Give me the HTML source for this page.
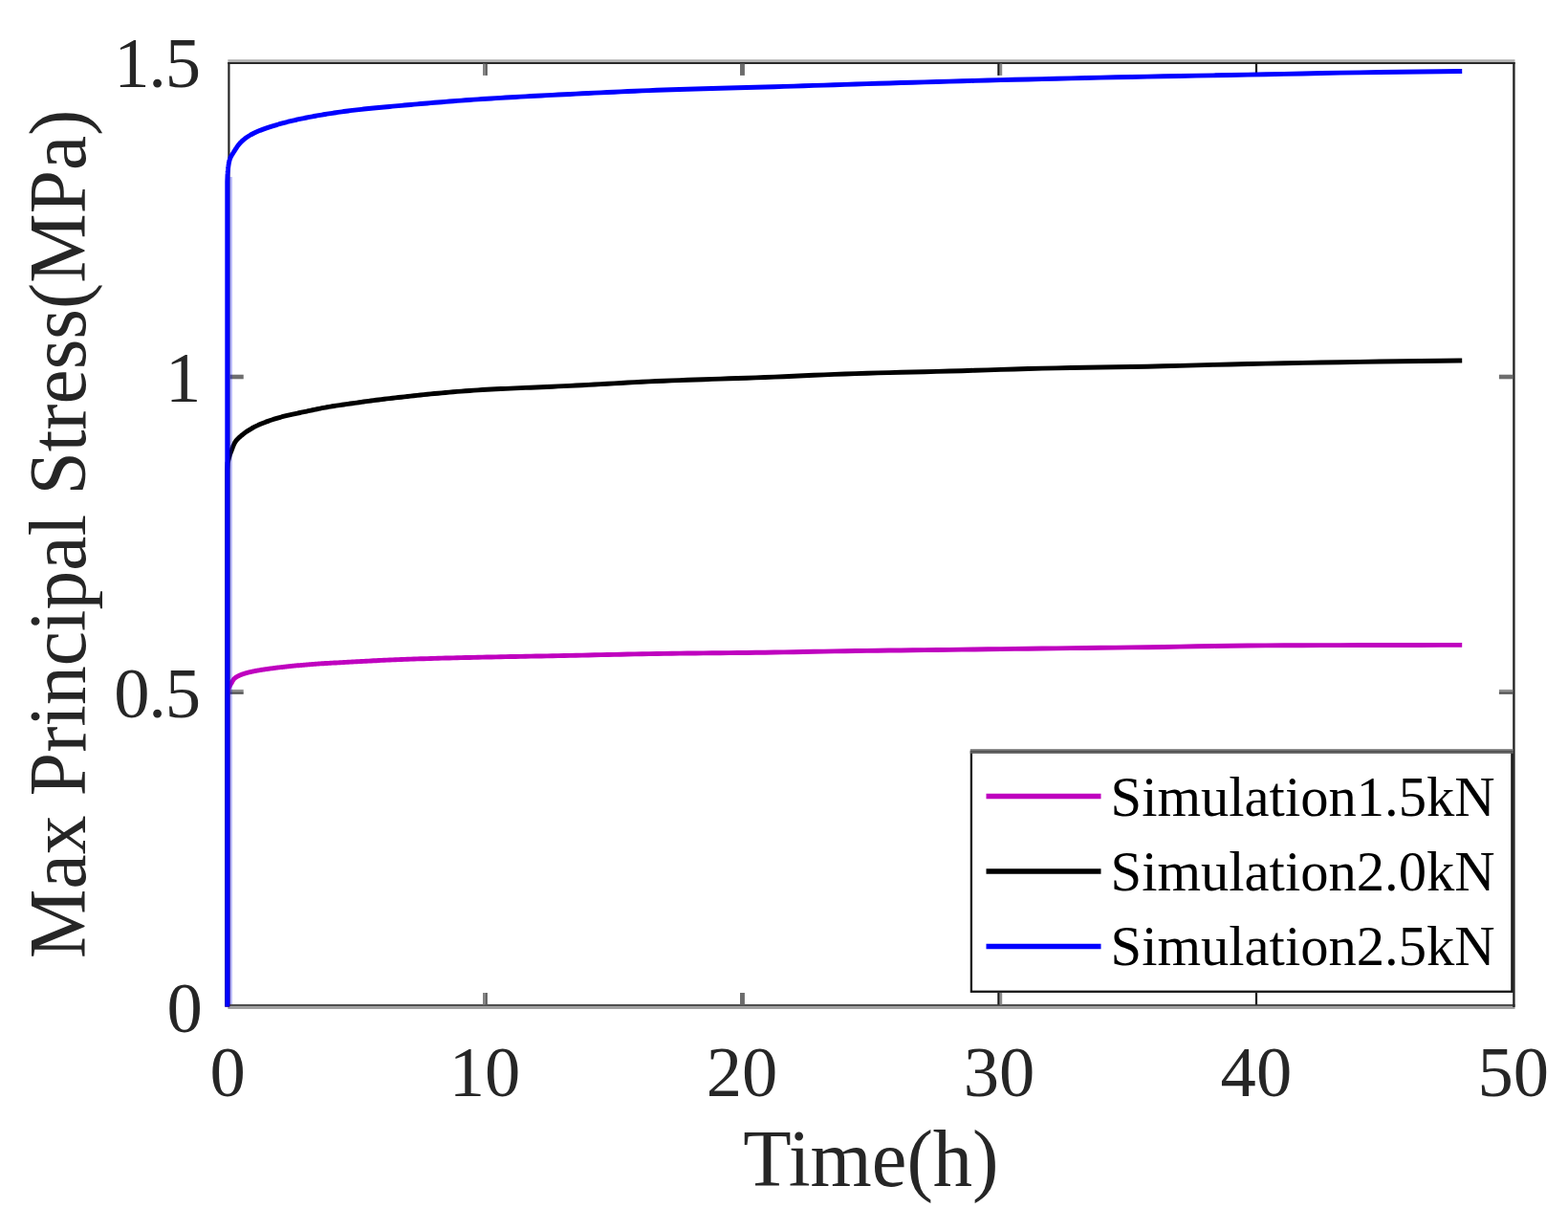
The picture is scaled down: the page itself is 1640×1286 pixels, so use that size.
<!DOCTYPE html>
<html lang="en">
<head>
<meta charset="utf-8">
<title>Max Principal Stress vs Time</title>
<style>
html,body{margin:0;padding:0;background:#fff;}
body{width:1640px;height:1286px;overflow:hidden;}
svg{display:block;}
text{font-family:"Liberation Serif",serif;fill:#262626;}
</style>
</head>
<body>
<svg width="1640" height="1286" viewBox="0 0 1640 1286">
<rect x="0" y="0" width="1640" height="1286" fill="#fff"/>
<!-- axes box -->
<rect x="238.3" y="62.2" width="1346.2" height="2.8" fill="#b2b2b2"/>
<rect x="238.3" y="65" width="1346.2" height="2" fill="#2a2a2a"/>
<rect x="238.3" y="1049.9" width="1346.2" height="2.4" fill="#4f4f4f"/>
<rect x="238.3" y="1052.3" width="1346.2" height="2.6" fill="#999"/>
<rect x="238.3" y="65" width="2.2" height="987" fill="#262626"/>
<rect x="1582.2" y="65" width="2.4" height="988" fill="#262626"/>
<rect x="505.00" y="66.50" width="2.40" height="12.40" fill="#828282"/>
<rect x="507.40" y="66.50" width="2.40" height="12.40" fill="#5a5a5a"/>
<rect x="505.00" y="1038.00" width="2.40" height="12.50" fill="#828282"/>
<rect x="507.40" y="1038.00" width="2.40" height="12.50" fill="#5a5a5a"/>
<rect x="774.00" y="66.50" width="4.90" height="12.40" fill="#6c6c6c"/>
<rect x="774.00" y="1038.00" width="4.90" height="12.50" fill="#6c6c6c"/>
<rect x="1043.30" y="66.50" width="2.40" height="12.40" fill="#1c1c1c"/>
<rect x="1045.70" y="66.50" width="2.50" height="12.40" fill="#8c8c8c"/>
<rect x="1043.30" y="1038.00" width="2.40" height="12.50" fill="#1c1c1c"/>
<rect x="1045.70" y="1038.00" width="2.50" height="12.50" fill="#8c8c8c"/>
<rect x="1312.90" y="66.50" width="2.20" height="12.40" fill="#151515"/>
<rect x="1312.90" y="1038.00" width="2.20" height="12.50" fill="#151515"/>
<rect x="240.20" y="391.70" width="14.50" height="4.60" fill="#6e6e6e"/>
<rect x="1567.90" y="391.70" width="14.40" height="4.60" fill="#6e6e6e"/>
<rect x="240.20" y="720.90" width="14.50" height="2.30" fill="#909090"/>
<rect x="240.20" y="723.20" width="14.50" height="2.60" fill="#555555"/>
<rect x="1567.90" y="720.90" width="14.40" height="2.30" fill="#909090"/>
<rect x="1567.90" y="723.20" width="14.40" height="2.60" fill="#555555"/>
<!-- curves -->
<g fill="none" stroke-width="4.9" stroke-linejoin="round" stroke-linecap="butt">
<path stroke="#bf00bf" d="M237.75,1052.40 L237.75,730.00 L238.05,722.00 L238.07,721.97 L238.10,721.93 L238.12,721.89 L238.14,721.85 L238.17,721.81 L238.19,721.76 L238.22,721.71 L238.24,721.67 L238.27,721.61 L238.30,721.56 L238.32,721.51 L238.35,721.45 L238.38,721.39 L238.41,721.33 L238.44,721.27 L238.46,721.20 L238.49,721.14 L238.52,721.07 L238.56,721.00 L238.59,720.93 L238.62,720.85 L238.65,720.78 L238.69,720.70 L238.72,720.62 L238.75,720.54 L238.79,720.46 L238.82,720.38 L238.86,720.29 L238.90,720.21 L238.93,720.12 L238.97,720.03 L239.01,719.94 L239.05,719.85 L239.09,719.75 L239.13,719.66 L239.17,719.56 L239.22,719.47 L239.26,719.37 L239.30,719.27 L239.35,719.17 L239.39,719.06 L239.44,718.96 L239.49,718.85 L239.53,718.75 L239.58,718.64 L239.63,718.53 L239.68,718.42 L239.73,718.31 L239.78,718.20 L239.84,718.09 L239.89,717.98 L239.95,717.86 L240.00,717.75 L240.06,717.63 L240.12,717.52 L240.17,717.40 L240.23,717.28 L240.30,717.16 L240.36,717.04 L240.42,716.92 L240.48,716.80 L240.55,716.68 L240.62,716.56 L240.68,716.43 L240.75,716.31 L240.82,716.18 L240.89,716.06 L240.96,715.93 L241.04,715.81 L241.11,715.68 L241.19,715.56 L241.27,715.43 L241.35,715.30 L241.43,715.17 L241.51,715.04 L241.59,714.92 L241.67,714.79 L241.76,714.66 L241.85,714.53 L241.94,714.39 L242.03,714.24 L242.12,714.09 L242.21,713.92 L242.31,713.75 L242.41,713.58 L242.50,713.40 L242.61,713.21 L242.71,713.03 L242.81,712.83 L242.92,712.64 L243.02,712.44 L243.13,712.25 L243.25,712.05 L243.36,711.85 L243.47,711.65 L243.59,711.46 L243.71,711.26 L243.83,711.07 L243.96,710.88 L244.08,710.70 L244.21,710.52 L244.34,710.35 L244.47,710.18 L244.61,710.02 L244.74,709.86 L244.88,709.72 L245.03,709.58 L245.17,709.44 L245.32,709.30 L245.47,709.17 L245.62,709.04 L245.77,708.91 L245.93,708.79 L246.09,708.66 L246.25,708.54 L246.42,708.42 L246.59,708.30 L246.76,708.18 L246.93,708.06 L247.11,707.95 L247.29,707.83 L247.48,707.72 L247.66,707.61 L247.85,707.50 L248.05,707.39 L248.25,707.28 L248.45,707.17 L248.65,707.06 L248.86,706.96 L249.07,706.85 L249.28,706.74 L249.50,706.63 L249.72,706.53 L249.95,706.42 L250.18,706.31 L250.42,706.21 L250.65,706.10 L250.90,705.99 L251.14,705.88 L251.39,705.77 L251.65,705.66 L251.91,705.56 L252.17,705.45 L252.44,705.34 L252.72,705.24 L253.00,705.13 L253.28,705.03 L253.57,704.92 L253.86,704.82 L254.16,704.72 L254.46,704.61 L254.77,704.51 L255.09,704.41 L255.41,704.30 L255.73,704.20 L256.06,704.10 L256.40,704.00 L256.74,703.90 L257.09,703.80 L257.45,703.70 L257.81,703.60 L258.18,703.49 L258.55,703.39 L258.93,703.29 L259.32,703.19 L259.71,703.09 L260.11,702.99 L260.52,702.89 L260.94,702.79 L261.36,702.69 L261.79,702.59 L262.22,702.49 L262.67,702.39 L263.12,702.28 L263.58,702.18 L264.05,702.08 L264.52,701.98 L265.01,701.88 L265.50,701.78 L266.00,701.68 L266.51,701.58 L267.03,701.48 L267.56,701.38 L268.10,701.28 L268.65,701.18 L269.20,701.08 L269.77,700.98 L270.35,700.89 L270.93,700.79 L271.53,700.69 L272.14,700.59 L272.75,700.49 L273.38,700.39 L274.02,700.29 L274.67,700.19 L275.33,700.09 L276.01,699.98 L276.69,699.88 L277.39,699.78 L278.10,699.68 L278.82,699.57 L279.55,699.47 L280.30,699.36 L281.06,699.26 L281.83,699.15 L282.62,699.04 L283.42,698.93 L284.23,698.82 L285.06,698.71 L285.90,698.60 L286.76,698.49 L287.63,698.38 L288.52,698.27 L289.43,698.15 L290.34,698.04 L291.28,697.92 L292.23,697.81 L293.20,697.69 L294.18,697.58 L295.19,697.46 L296.21,697.34 L297.24,697.23 L298.30,697.11 L299.37,696.99 L300.47,696.87 L301.58,696.76 L302.71,696.64 L303.86,696.52 L305.03,696.40 L306.22,696.29 L307.43,696.17 L308.67,696.05 L309.92,695.93 L311.20,695.81 L312.50,695.69 L313.82,695.57 L315.16,695.44 L316.53,695.32 L317.92,695.20 L319.34,695.08 L320.78,694.95 L322.25,694.83 L323.74,694.71 L325.26,694.59 L326.80,694.47 L328.37,694.35 L329.97,694.24 L331.60,694.12 L333.25,694.01 L334.94,693.90 L336.65,693.78 L338.39,693.68 L340.17,693.57 L341.97,693.46 L343.81,693.36 L345.68,693.25 L347.58,693.15 L349.51,693.04 L351.48,692.94 L353.48,692.83 L355.52,692.72 L357.59,692.61 L359.70,692.50 L361.84,692.39 L364.03,692.28 L366.25,692.16 L368.51,692.04 L370.80,691.92 L373.14,691.79 L375.52,691.66 L377.94,691.53 L380.41,691.39 L382.92,691.25 L385.47,691.11 L388.06,690.97 L390.70,690.82 L393.39,690.68 L396.12,690.54 L398.90,690.40 L401.73,690.25 L404.61,690.12 L407.54,689.98 L410.52,689.85 L413.55,689.72 L416.63,689.59 L419.77,689.47 L422.97,689.35 L426.22,689.24 L429.52,689.12 L432.89,689.01 L436.31,688.90 L439.79,688.79 L443.33,688.69 L446.94,688.58 L450.60,688.48 L454.34,688.37 L458.13,688.27 L462.00,688.17 L465.93,688.07 L469.92,687.97 L473.99,687.86 L478.13,687.76 L482.34,687.66 L486.63,687.56 L490.99,687.45 L495.43,687.35 L499.94,687.25 L504.53,687.14 L509.20,687.04 L513.96,686.94 L518.79,686.84 L523.72,686.75 L528.72,686.65 L533.82,686.55 L539.00,686.45 L544.27,686.35 L549.64,686.25 L555.10,686.15 L560.65,686.05 L566.31,685.94 L572.06,685.84 L577.91,685.73 L583.86,685.62 L589.92,685.50 L596.08,685.38 L602.35,685.25 L608.73,685.11 L615.22,684.97 L621.82,684.82 L628.54,684.67 L635.38,684.52 L642.33,684.36 L649.41,684.20 L656.61,684.05 L663.94,683.90 L671.39,683.76 L678.97,683.62 L686.69,683.49 L694.54,683.37 L702.53,683.26 L710.65,683.16 L718.92,683.07 L727.34,682.98 L735.90,682.90 L744.61,682.81 L753.47,682.72 L762.48,682.63 L771.66,682.54 L780.99,682.43 L790.49,682.32 L800.15,682.20 L809.98,682.05 L819.98,681.89 L830.16,681.71 L840.51,681.51 L851.05,681.31 L861.77,681.11 L872.67,680.91 L883.77,680.72 L895.06,680.54 L906.54,680.37 L918.23,680.22 L930.12,680.07 L942.22,679.93 L954.53,679.79 L967.05,679.64 L979.80,679.49 L992.76,679.33 L1005.95,679.16 L1019.37,678.98 L1033.03,678.80 L1046.92,678.61 L1061.06,678.42 L1075.44,678.22 L1090.08,678.03 L1104.96,677.85 L1120.11,677.67 L1135.53,677.49 L1151.21,677.31 L1167.17,677.12 L1183.40,676.92 L1199.92,676.70 L1216.72,676.43 L1233.82,676.11 L1251.22,675.77 L1268.92,675.46 L1286.93,675.20 L1305.26,675.04 L1323.90,674.91 L1342.87,674.80 L1362.17,674.71 L1381.81,674.64 L1401.79,674.58 L1422.11,674.54 L1442.80,674.49 L1463.84,674.46 L1485.25,674.43 L1507.04,674.41 L1529.20,674.40"/>
<path stroke="#000000" d="M237.75,1052.40 L237.75,492.00 L238.05,484.00 L238.07,483.93 L238.10,483.86 L238.12,483.78 L238.14,483.70 L238.17,483.62 L238.19,483.53 L238.22,483.44 L238.24,483.35 L238.27,483.26 L238.30,483.16 L238.32,483.06 L238.35,482.96 L238.38,482.86 L238.41,482.75 L238.44,482.64 L238.46,482.53 L238.49,482.41 L238.52,482.30 L238.56,482.18 L238.59,482.06 L238.62,481.93 L238.65,481.81 L238.69,481.68 L238.72,481.55 L238.75,481.41 L238.79,481.28 L238.82,481.14 L238.86,481.00 L238.90,480.86 L238.93,480.71 L238.97,480.57 L239.01,480.42 L239.05,480.27 L239.09,480.12 L239.13,479.96 L239.17,479.81 L239.22,479.65 L239.26,479.49 L239.30,479.33 L239.35,479.16 L239.39,479.00 L239.44,478.83 L239.49,478.66 L239.53,478.49 L239.58,478.32 L239.63,478.15 L239.68,477.98 L239.73,477.80 L239.78,477.62 L239.84,477.44 L239.89,477.26 L239.95,477.08 L240.00,476.90 L240.06,476.71 L240.12,476.53 L240.17,476.34 L240.23,476.15 L240.30,475.97 L240.36,475.78 L240.42,475.58 L240.48,475.39 L240.55,475.20 L240.62,475.00 L240.68,474.81 L240.75,474.61 L240.82,474.42 L240.89,474.22 L240.96,474.02 L241.04,473.82 L241.11,473.62 L241.19,473.42 L241.27,473.22 L241.35,473.01 L241.43,472.81 L241.51,472.61 L241.59,472.40 L241.67,472.20 L241.76,471.99 L241.85,471.79 L241.94,471.57 L242.03,471.34 L242.12,471.11 L242.21,470.87 L242.31,470.62 L242.41,470.36 L242.50,470.10 L242.61,469.83 L242.71,469.55 L242.81,469.27 L242.92,468.99 L243.02,468.70 L243.13,468.40 L243.25,468.11 L243.36,467.81 L243.47,467.51 L243.59,467.20 L243.71,466.90 L243.83,466.59 L243.96,466.29 L244.08,465.98 L244.21,465.68 L244.34,465.38 L244.47,465.08 L244.61,464.78 L244.74,464.48 L244.88,464.19 L245.03,463.90 L245.17,463.61 L245.32,463.33 L245.47,463.05 L245.62,462.79 L245.77,462.52 L245.93,462.26 L246.09,462.01 L246.25,461.77 L246.42,461.53 L246.59,461.29 L246.76,461.06 L246.93,460.83 L247.11,460.60 L247.29,460.38 L247.48,460.15 L247.66,459.93 L247.85,459.72 L248.05,459.50 L248.25,459.28 L248.45,459.07 L248.65,458.86 L248.86,458.65 L249.07,458.44 L249.28,458.23 L249.50,458.02 L249.72,457.81 L249.95,457.60 L250.18,457.39 L250.42,457.17 L250.65,456.96 L250.90,456.75 L251.14,456.54 L251.39,456.32 L251.65,456.10 L251.91,455.89 L252.17,455.67 L252.44,455.44 L252.72,455.22 L253.00,454.99 L253.28,454.76 L253.57,454.53 L253.86,454.29 L254.16,454.05 L254.46,453.81 L254.77,453.57 L255.09,453.33 L255.41,453.09 L255.73,452.84 L256.06,452.60 L256.40,452.35 L256.74,452.10 L257.09,451.85 L257.45,451.60 L257.81,451.35 L258.18,451.10 L258.55,450.85 L258.93,450.59 L259.32,450.34 L259.71,450.08 L260.11,449.83 L260.52,449.57 L260.94,449.31 L261.36,449.05 L261.79,448.79 L262.22,448.53 L262.67,448.27 L263.12,448.01 L263.58,447.75 L264.05,447.49 L264.52,447.23 L265.01,446.97 L265.50,446.71 L266.00,446.45 L266.51,446.19 L267.03,445.92 L267.56,445.66 L268.10,445.40 L268.65,445.14 L269.20,444.88 L269.77,444.61 L270.35,444.35 L270.93,444.09 L271.53,443.83 L272.14,443.56 L272.75,443.30 L273.38,443.03 L274.02,442.76 L274.67,442.50 L275.33,442.23 L276.01,441.96 L276.69,441.69 L277.39,441.43 L278.10,441.16 L278.82,440.89 L279.55,440.62 L280.30,440.35 L281.06,440.08 L281.83,439.81 L282.62,439.53 L283.42,439.26 L284.23,438.99 L285.06,438.72 L285.90,438.45 L286.76,438.18 L287.63,437.91 L288.52,437.64 L289.43,437.37 L290.34,437.09 L291.28,436.82 L292.23,436.55 L293.20,436.28 L294.18,436.01 L295.19,435.74 L296.21,435.48 L297.24,435.21 L298.30,434.95 L299.37,434.68 L300.47,434.42 L301.58,434.16 L302.71,433.90 L303.86,433.64 L305.03,433.38 L306.22,433.11 L307.43,432.85 L308.67,432.58 L309.92,432.31 L311.20,432.04 L312.50,431.76 L313.82,431.49 L315.16,431.20 L316.53,430.92 L317.92,430.63 L319.34,430.33 L320.78,430.03 L322.25,429.72 L323.74,429.40 L325.26,429.08 L326.80,428.75 L328.37,428.42 L329.97,428.08 L331.60,427.74 L333.25,427.40 L334.94,427.06 L336.65,426.72 L338.39,426.39 L340.17,426.05 L341.97,425.72 L343.81,425.40 L345.68,425.09 L347.58,424.77 L349.51,424.47 L351.48,424.16 L353.48,423.86 L355.52,423.56 L357.59,423.26 L359.70,422.96 L361.84,422.65 L364.03,422.34 L366.25,422.03 L368.51,421.71 L370.80,421.39 L373.14,421.05 L375.52,420.72 L377.94,420.37 L380.41,420.03 L382.92,419.68 L385.47,419.33 L388.06,418.98 L390.70,418.63 L393.39,418.29 L396.12,417.95 L398.90,417.61 L401.73,417.27 L404.61,416.93 L407.54,416.59 L410.52,416.25 L413.55,415.90 L416.63,415.56 L419.77,415.22 L422.97,414.86 L426.22,414.51 L429.52,414.15 L432.89,413.78 L436.31,413.41 L439.79,413.04 L443.33,412.67 L446.94,412.30 L450.60,411.92 L454.34,411.55 L458.13,411.19 L462.00,410.82 L465.93,410.46 L469.92,410.11 L473.99,409.76 L478.13,409.42 L482.34,409.08 L486.63,408.76 L490.99,408.45 L495.43,408.14 L499.94,407.85 L504.53,407.57 L509.20,407.31 L513.96,407.05 L518.79,406.80 L523.72,406.56 L528.72,406.33 L533.82,406.10 L539.00,405.87 L544.27,405.64 L549.64,405.41 L555.10,405.18 L560.65,404.94 L566.31,404.70 L572.06,404.45 L577.91,404.19 L583.86,403.92 L589.92,403.64 L596.08,403.35 L602.35,403.03 L608.73,402.70 L615.22,402.35 L621.82,401.98 L628.54,401.61 L635.38,401.22 L642.33,400.83 L649.41,400.44 L656.61,400.05 L663.94,399.67 L671.39,399.29 L678.97,398.92 L686.69,398.56 L694.54,398.22 L702.53,397.90 L710.65,397.59 L718.92,397.29 L727.34,396.99 L735.90,396.70 L744.61,396.41 L753.47,396.11 L762.48,395.82 L771.66,395.51 L780.99,395.19 L790.49,394.85 L800.15,394.49 L809.98,394.11 L819.98,393.69 L830.16,393.24 L840.51,392.78 L851.05,392.31 L861.77,391.85 L872.67,391.40 L883.77,390.97 L895.06,390.58 L906.54,390.23 L918.23,389.90 L930.12,389.60 L942.22,389.30 L954.53,389.01 L967.05,388.71 L979.80,388.40 L992.76,388.06 L1005.95,387.69 L1019.37,387.27 L1033.03,386.83 L1046.92,386.38 L1061.06,385.94 L1075.44,385.53 L1090.08,385.16 L1104.96,384.84 L1120.11,384.56 L1135.53,384.31 L1151.21,384.06 L1167.17,383.80 L1183.40,383.52 L1199.92,383.20 L1216.72,382.82 L1233.82,382.37 L1251.22,381.89 L1268.92,381.41 L1286.93,380.95 L1305.26,380.53 L1323.90,380.13 L1342.87,379.74 L1362.17,379.37 L1381.81,379.02 L1401.79,378.69 L1422.11,378.38 L1442.80,378.07 L1463.84,377.78 L1485.25,377.50 L1507.04,377.24 L1529.20,377.00"/>
<path stroke="#0000ff" d="M237.75,1052.40 L237.75,190.00 L238.05,182.00 L238.07,181.69 L238.10,181.38 L238.12,181.07 L238.14,180.76 L238.17,180.45 L238.19,180.15 L238.22,179.84 L238.24,179.54 L238.27,179.24 L238.30,178.94 L238.32,178.64 L238.35,178.35 L238.38,178.05 L238.41,177.76 L238.44,177.47 L238.46,177.18 L238.49,176.89 L238.52,176.60 L238.56,176.32 L238.59,176.03 L238.62,175.75 L238.65,175.47 L238.69,175.19 L238.72,174.92 L238.75,174.64 L238.79,174.37 L238.82,174.10 L238.86,173.83 L238.90,173.56 L238.93,173.30 L238.97,173.04 L239.01,172.78 L239.05,172.52 L239.09,172.26 L239.13,172.01 L239.17,171.75 L239.22,171.50 L239.26,171.26 L239.30,171.01 L239.35,170.77 L239.39,170.52 L239.44,170.29 L239.49,170.05 L239.53,169.81 L239.58,169.58 L239.63,169.35 L239.68,169.12 L239.73,168.90 L239.78,168.67 L239.84,168.45 L239.89,168.24 L239.95,168.02 L240.00,167.81 L240.06,167.60 L240.12,167.40 L240.17,167.20 L240.23,167.00 L240.30,166.81 L240.36,166.62 L240.42,166.43 L240.48,166.24 L240.55,166.06 L240.62,165.88 L240.68,165.70 L240.75,165.52 L240.82,165.35 L240.89,165.18 L240.96,165.01 L241.04,164.84 L241.11,164.67 L241.19,164.51 L241.27,164.34 L241.35,164.18 L241.43,164.01 L241.51,163.85 L241.59,163.69 L241.67,163.53 L241.76,163.36 L241.85,163.20 L241.94,163.04 L242.03,162.88 L242.12,162.72 L242.21,162.55 L242.31,162.39 L242.41,162.23 L242.50,162.06 L242.61,161.89 L242.71,161.73 L242.81,161.56 L242.92,161.39 L243.02,161.22 L243.13,161.04 L243.25,160.87 L243.36,160.69 L243.47,160.51 L243.59,160.32 L243.71,160.14 L243.83,159.95 L243.96,159.76 L244.08,159.56 L244.21,159.37 L244.34,159.17 L244.47,158.96 L244.61,158.75 L244.74,158.54 L244.88,158.33 L245.03,158.11 L245.17,157.88 L245.32,157.65 L245.47,157.41 L245.62,157.17 L245.77,156.93 L245.93,156.68 L246.09,156.42 L246.25,156.17 L246.42,155.91 L246.59,155.64 L246.76,155.38 L246.93,155.11 L247.11,154.83 L247.29,154.56 L247.48,154.28 L247.66,154.00 L247.85,153.72 L248.05,153.44 L248.25,153.16 L248.45,152.88 L248.65,152.59 L248.86,152.31 L249.07,152.02 L249.28,151.74 L249.50,151.46 L249.72,151.17 L249.95,150.89 L250.18,150.61 L250.42,150.33 L250.65,150.05 L250.90,149.77 L251.14,149.50 L251.39,149.22 L251.65,148.95 L251.91,148.69 L252.17,148.42 L252.44,148.16 L252.72,147.90 L253.00,147.64 L253.28,147.38 L253.57,147.12 L253.86,146.86 L254.16,146.60 L254.46,146.34 L254.77,146.08 L255.09,145.83 L255.41,145.57 L255.73,145.31 L256.06,145.05 L256.40,144.80 L256.74,144.54 L257.09,144.29 L257.45,144.03 L257.81,143.78 L258.18,143.52 L258.55,143.27 L258.93,143.01 L259.32,142.76 L259.71,142.51 L260.11,142.25 L260.52,142.00 L260.94,141.75 L261.36,141.50 L261.79,141.24 L262.22,140.99 L262.67,140.74 L263.12,140.49 L263.58,140.24 L264.05,139.99 L264.52,139.74 L265.01,139.49 L265.50,139.25 L266.00,139.00 L266.51,138.76 L267.03,138.51 L267.56,138.27 L268.10,138.03 L268.65,137.79 L269.20,137.55 L269.77,137.31 L270.35,137.07 L270.93,136.83 L271.53,136.59 L272.14,136.35 L272.75,136.12 L273.38,135.88 L274.02,135.64 L274.67,135.40 L275.33,135.16 L276.01,134.91 L276.69,134.67 L277.39,134.42 L278.10,134.18 L278.82,133.93 L279.55,133.68 L280.30,133.43 L281.06,133.18 L281.83,132.92 L282.62,132.66 L283.42,132.40 L284.23,132.14 L285.06,131.88 L285.90,131.61 L286.76,131.35 L287.63,131.08 L288.52,130.81 L289.43,130.54 L290.34,130.27 L291.28,130.00 L292.23,129.72 L293.20,129.45 L294.18,129.17 L295.19,128.90 L296.21,128.62 L297.24,128.34 L298.30,128.06 L299.37,127.78 L300.47,127.50 L301.58,127.22 L302.71,126.94 L303.86,126.66 L305.03,126.38 L306.22,126.10 L307.43,125.82 L308.67,125.54 L309.92,125.26 L311.20,124.98 L312.50,124.69 L313.82,124.41 L315.16,124.12 L316.53,123.84 L317.92,123.55 L319.34,123.26 L320.78,122.98 L322.25,122.69 L323.74,122.40 L325.26,122.11 L326.80,121.82 L328.37,121.53 L329.97,121.24 L331.60,120.95 L333.25,120.66 L334.94,120.37 L336.65,120.08 L338.39,119.78 L340.17,119.49 L341.97,119.19 L343.81,118.90 L345.68,118.60 L347.58,118.30 L349.51,118.00 L351.48,117.71 L353.48,117.41 L355.52,117.12 L357.59,116.83 L359.70,116.54 L361.84,116.25 L364.03,115.96 L366.25,115.68 L368.51,115.40 L370.80,115.12 L373.14,114.85 L375.52,114.58 L377.94,114.31 L380.41,114.05 L382.92,113.78 L385.47,113.52 L388.06,113.26 L390.70,113.01 L393.39,112.75 L396.12,112.49 L398.90,112.23 L401.73,111.97 L404.61,111.70 L407.54,111.44 L410.52,111.17 L413.55,110.89 L416.63,110.61 L419.77,110.33 L422.97,110.04 L426.22,109.75 L429.52,109.46 L432.89,109.16 L436.31,108.86 L439.79,108.55 L443.33,108.24 L446.94,107.94 L450.60,107.63 L454.34,107.31 L458.13,107.00 L462.00,106.69 L465.93,106.37 L469.92,106.06 L473.99,105.74 L478.13,105.43 L482.34,105.11 L486.63,104.80 L490.99,104.49 L495.43,104.18 L499.94,103.87 L504.53,103.56 L509.20,103.26 L513.96,102.96 L518.79,102.65 L523.72,102.35 L528.72,102.06 L533.82,101.76 L539.00,101.46 L544.27,101.16 L549.64,100.86 L555.10,100.56 L560.65,100.27 L566.31,99.97 L572.06,99.67 L577.91,99.36 L583.86,99.06 L589.92,98.75 L596.08,98.45 L602.35,98.13 L608.73,97.82 L615.22,97.49 L621.82,97.17 L628.54,96.84 L635.38,96.51 L642.33,96.19 L649.41,95.86 L656.61,95.54 L663.94,95.22 L671.39,94.91 L678.97,94.61 L686.69,94.32 L694.54,94.04 L702.53,93.76 L710.65,93.51 L718.92,93.26 L727.34,93.01 L735.90,92.77 L744.61,92.53 L753.47,92.30 L762.48,92.05 L771.66,91.80 L780.99,91.55 L790.49,91.28 L800.15,91.00 L809.98,90.70 L819.98,90.39 L830.16,90.08 L840.51,89.75 L851.05,89.42 L861.77,89.08 L872.67,88.74 L883.77,88.38 L895.06,88.03 L906.54,87.67 L918.23,87.30 L930.12,86.94 L942.22,86.57 L954.53,86.20 L967.05,85.83 L979.80,85.46 L992.76,85.09 L1005.95,84.73 L1019.37,84.36 L1033.03,84.01 L1046.92,83.65 L1061.06,83.30 L1075.44,82.94 L1090.08,82.58 L1104.96,82.22 L1120.11,81.86 L1135.53,81.50 L1151.21,81.14 L1167.17,80.79 L1183.40,80.44 L1199.92,80.10 L1216.72,79.77 L1233.82,79.46 L1251.22,79.14 L1268.92,78.83 L1286.93,78.51 L1305.26,78.17 L1323.90,77.80 L1342.87,77.38 L1362.17,76.95 L1381.81,76.53 L1401.79,76.17 L1422.11,75.84 L1442.80,75.53 L1463.84,75.24 L1485.25,74.97 L1507.04,74.72 L1529.20,74.50"/>
<rect x="240" y="185" width="2.9" height="865" fill="#0000ff" fill-opacity="0.28" stroke="none"/>
</g>
<!-- legend -->
<rect x="1015.9" y="786" width="565.5" height="250.75" fill="#fff" stroke="#141414" stroke-width="2.3"/>
<rect x="1014.8" y="783.2" width="568" height="2.3" fill="#747474"/><rect x="1014.8" y="785.5" width="568" height="2.3" fill="#5e5e5e"/>
<line x1="1031.5" y1="832.60" x2="1151.5" y2="832.60" stroke="#bf00bf" stroke-width="5.5"/>
<text x="1161.6" y="853.40" font-size="58.6" style="fill:#000">Simulation1.5kN</text>
<line x1="1031.5" y1="911.05" x2="1151.5" y2="911.05" stroke="#000" stroke-width="5.5"/>
<text x="1161.6" y="931.40" font-size="58.6" style="fill:#000">Simulation2.0kN</text>
<line x1="1031.5" y1="989.50" x2="1151.5" y2="989.50" stroke="#0000ff" stroke-width="5.5"/>
<text x="1161.6" y="1009.40" font-size="58.6" style="fill:#000">Simulation2.5kN</text>
<!-- tick labels -->
<g font-size="74.6">
<text x="238.17" y="1145.8" text-anchor="middle">0</text>
<text x="507.10" y="1145.8" text-anchor="middle">10</text>
<text x="776.03" y="1145.8" text-anchor="middle">20</text>
<text x="1044.96" y="1145.8" text-anchor="middle">30</text>
<text x="1313.89" y="1145.8" text-anchor="middle">40</text>
<text x="1582.82" y="1145.8" text-anchor="middle">50</text>
<text x="210.6" y="1078.90" text-anchor="end" letter-spacing="-1.2">0</text>
<text x="208.9" y="749.50" text-anchor="end" letter-spacing="-1.2">0.5</text>
<text x="209.2" y="420.10" text-anchor="end" letter-spacing="-1.2">1</text>
<text x="208.9" y="90.70" text-anchor="end" letter-spacing="-1.2">1.5</text>
</g>
<!-- axis labels -->
<text x="910.9" y="1239.8" font-size="83.6" text-anchor="middle" textLength="267.4" lengthAdjust="spacingAndGlyphs">Time(h)</text>
<text transform="translate(89.4,558.3) rotate(-90)" font-size="85" text-anchor="middle" textLength="887.2" lengthAdjust="spacingAndGlyphs">Max Principal Stress(MPa)</text>
</svg>
</body>
</html>
